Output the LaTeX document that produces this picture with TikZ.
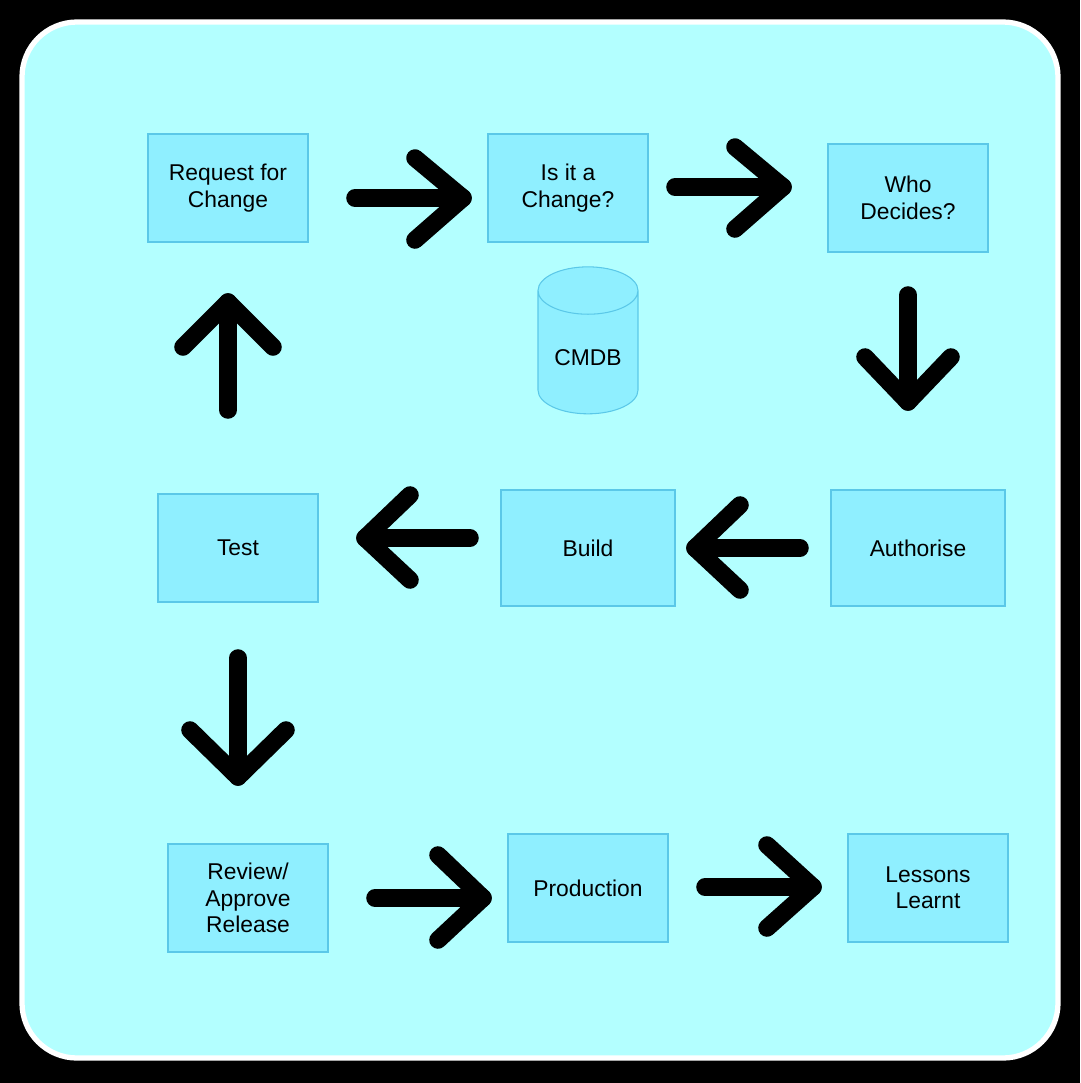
\documentclass[tikz,border=0pt]{standalone}
\usepackage{fontspec}
\setmainfont{Liberation Sans}
\usetikzlibrary{shapes.geometric}
\begin{document}
\begin{tikzpicture}[x=0.02cm,y=-0.02cm,
  box/.style={draw=boxline,fill=boxfill,line width=0.6pt,minimum width=3.2cm,minimum height=2.16cm,align=center,font=\fontsize{13}{15}\selectfont,inner sep=2pt},
  arr/.style={line width=10pt,line cap=round,line join=round,black}]
\definecolor{bg}{HTML}{B3FFFF}
\definecolor{boxfill}{HTML}{8FEFFF}
\definecolor{boxline}{HTML}{5BC8E8}
\fill[black] (0,0) rectangle (1080,1083);
\useasboundingbox (0,0) rectangle (1080,1083);
\draw[white,line width=3pt,fill=bg,rounded corners=1.1cm] (22,22) rectangle (1058,1058);
\node[box] (rfc) at (228,188) {Request for\\Change};
\node[box] (isit) at (568,188) {Is it a\\Change?};
\node[box] (who) at (908,198) {Who\\Decides?};
\node[box] (test) at (238,548) {Test};
\node[box,minimum width=3.48cm,minimum height=2.32cm] (build) at (588,548) {Build};
\node[box,minimum width=3.48cm,minimum height=2.32cm] (auth) at (918,548) {Authorise};
\node[box] (rev) at (248,898) {Review/\\Approve\\Release};
\node[box] (prod) at (588,888) {Production};
\node[box] (less) at (928,888) {Lessons\\Learnt};
\node[cylinder,shape border rotate=90,draw=boxline,fill=boxfill,line width=0.6pt,minimum width=2cm,minimum height=2.94cm,aspect=0.6,font=\fontsize{13}{15}\selectfont] (cmdb) at (588,358) {CMDB};
% arrows: tail, tip, head ends
\newcommand{\myarrow}[4]{\draw[arr] #1 -- #2; \draw[arr] #3 -- #2 -- #4;}
\myarrow{(355,198)}{(463,198)}{(415,158)}{(415,240)}
\myarrow{(675,187)}{(783,187)}{(735,147)}{(735,229)}
\myarrow{(908,295)}{(908,402)}{(865,357)}{(951,357)}
\myarrow{(800,548)}{(695,548)}{(740,505)}{(740,590)}
\myarrow{(470,538)}{(365,538)}{(410,495)}{(410,580)}
\myarrow{(238,658)}{(238,777)}{(190,730)}{(286,730)}
\myarrow{(228,410)}{(228,302)}{(183,347)}{(273,347)}
\myarrow{(375,898)}{(483,898)}{(438,855)}{(438,940)}
\myarrow{(705,887)}{(813,887)}{(767,845)}{(767,928)}
\end{tikzpicture}
\end{document}
